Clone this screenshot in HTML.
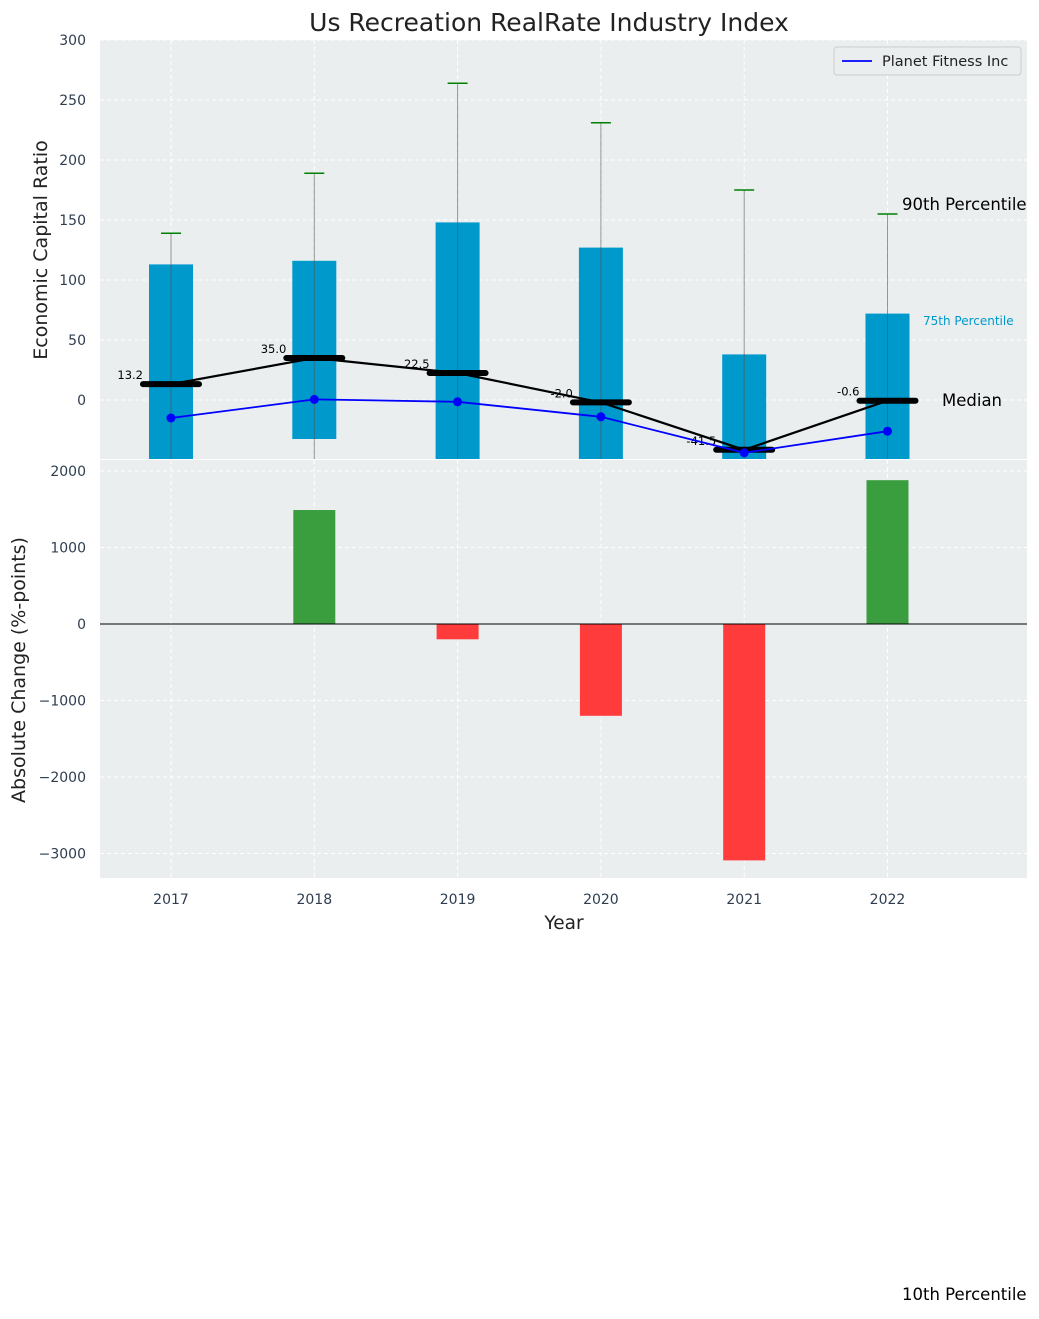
<!DOCTYPE html>
<html><head><meta charset="utf-8"><style>
body{margin:0;background:#fff;font-family:"Liberation Sans","DejaVu Sans",sans-serif}
svg text{font-family:"DejaVu Sans","Liberation Sans",sans-serif}
</style></head><body>
<svg id="c" width="1039" height="1314" xmlns="http://www.w3.org/2000/svg"></svg>
<script>
const years=[2017,2018,2019,2020,2021,2022];
const p75=[113,116,148,127,38,72];
const p25=[-60,-32.5,-60,-60,-60,-60];
const p90=[139,189,264,231,175,155];
const medians=[13.2,35.0,22.5,-2.0,-41.5,-0.6];
const medianLabels=["13.2","35.0","22.5","-2.0","-41.5","-0.6"];
const company=[-15,0.5,-1.5,-14,-44,-26];
const changes=[null,1490,-200,-1200,-3090,1880];
const topTicks=[0,50,100,150,200,250,300];
const botTicks=[-3000,-2000,-1000,0,1000,2000];
const botTickLabels=["\u22123000","\u22122000","\u22121000","0","1000","2000"];

const svg=document.getElementById('c');
const NS='http://www.w3.org/2000/svg';
function el(t,a,txt){const e=document.createElementNS(NS,t);for(const k in a)e.setAttribute(k,a[k]);if(txt!==undefined)e.textContent=txt;svg.appendChild(e);return e;}
const X=v=>171+(v-2017)*143.3;
const Y1=v=>400-v*1.2;
const Y2=v=>624-v*0.0765;
const L=100,R=1027,T1=40,B1=459,T2=460,B2=878;

let e;
e=el('rect',{x:L,y:T1,width:R-L,height:B1-T1,fill:'#eaeeef'});


e=el('rect',{x:L,y:T2,width:R-L,height:B2-T2,fill:'#eaeeef'});



topTicks.forEach(t=>{const y=Y1(t);
 e=el('line',{x1:L,x2:R,y1:y,y2:y,stroke:'#fff','stroke-dasharray':'4,3','stroke-width':1});
 
 
 e=el('text',{x:86,y:y+5,'text-anchor':'end','font-size':14,fill:'#2e3e50'},t);
 
 
});
botTicks.forEach((t,i)=>{const y=Y2(t);
 e=el('line',{x1:L,x2:R,y1:y,y2:y,stroke:'#fff','stroke-dasharray':'4,3','stroke-width':1});
 
 
 e=el('text',{x:86,y:y+5,'text-anchor':'end','font-size':14,fill:'#2e3e50'},botTickLabels[i]);
 
 
});
years.forEach(yr=>{const x=X(yr);
 e=el('line',{x1:x,x2:x,y1:T1,y2:B1,stroke:'#fff','stroke-dasharray':'4,3'});
 
 
 e=el('line',{x1:x,x2:x,y1:T2,y2:B2,stroke:'#fff','stroke-dasharray':'4,3'});
 
 
 e=el('text',{x:x,y:904,'text-anchor':'middle','font-size':14,fill:'#2e3e50'},yr);
 
 
});

years.forEach((yr,i)=>{const x=X(yr);
 const top=Y1(p75[i]),bot=Math.min(B1,Y1(p25[i]));
 e=el('rect',{x:x-22,y:top,width:44,height:bot-top,fill:'#0099cc'});
 
 
 e=el('line',{x1:x,x2:x,y1:Y1(p90[i]),y2:B1,stroke:'#555','stroke-opacity':0.6,'stroke-width':1});
 
 
 e=el('line',{x1:x-10,x2:x+10,y1:Y1(p90[i]),y2:Y1(p90[i]),stroke:'green','stroke-width':1.5});
 
 
});
e=el('polyline',{points:years.map((yr,i)=>X(yr)+','+Y1(medians[i])).join(' '),fill:'none',stroke:'#000','stroke-width':2.2});


years.forEach((yr,i)=>{const x=X(yr),y=Y1(medians[i]);
 e=el('line',{x1:x-28,x2:x+28,y1:y,y2:y,stroke:'#000','stroke-width':6,'stroke-linecap':'round'});
 
 
 e=el('text',{x:x-28,y:y-5,'text-anchor':'end','font-size':11.5,fill:'#000'},medianLabels[i]);
 
 
});
e=el('polyline',{points:years.map((yr,i)=>X(yr)+','+Y1(company[i])).join(' '),fill:'none',stroke:'#0000ff','stroke-width':1.8});


years.forEach((yr,i)=>{
 e=el('circle',{cx:X(yr),cy:Y1(company[i]),r:4.5,fill:'#0000ff'});
 
 
});
e=el('text',{x:902,y:210,'font-size':16.5,fill:'#000'},'90th Percentile');


e=el('text',{x:923,y:325,'font-size':12,fill:'#0099cc'},'75th Percentile');


e=el('text',{x:942,y:406,'font-size':16.5,fill:'#000'},'Median');


e=el('text',{x:902,y:1300,'font-size':16.5,fill:'#000'},'10th Percentile');



e=el('rect',{x:834,y:47,width:187,height:28,fill:'#eaeeef',stroke:'#ccc',rx:3});


e=el('line',{x1:842,x2:872,y1:61,y2:61,stroke:'#0000ff','stroke-width':1.8});


e=el('text',{x:882,y:66,'font-size':14.5,fill:'#222'},'Planet Fitness Inc');



years.forEach((yr,i)=>{const v=changes[i];if(v===null)return;const x=X(yr);
 const y0=Y2(0),y=Y2(v);
 e=el('rect',{x:x-21,y:Math.min(y0,y),width:42,height:Math.abs(y-y0),fill:v>=0?'#3a9e3e':'#ff3b3b'});
 
 
});
e=el('line',{x1:L,x2:R,y1:Y2(0),y2:Y2(0),stroke:'#000','stroke-width':1});



e=el('text',{x:549,y:31,'text-anchor':'middle','font-size':25,fill:'#222'},'Us Recreation RealRate Industry Index');


e=el('text',{x:0,y:0,'text-anchor':'middle','font-size':19,fill:'#222',transform:'translate(47,250) rotate(-90)'},'Economic Capital Ratio');


e=el('text',{x:0,y:0,'text-anchor':'middle','font-size':19,fill:'#222',transform:'translate(25,670) rotate(-90)'},'Absolute Change (%-points)');


e=el('text',{x:564,y:929,'text-anchor':'middle','font-size':18.5,fill:'#222'},'Year');


</script>
</body></html>
